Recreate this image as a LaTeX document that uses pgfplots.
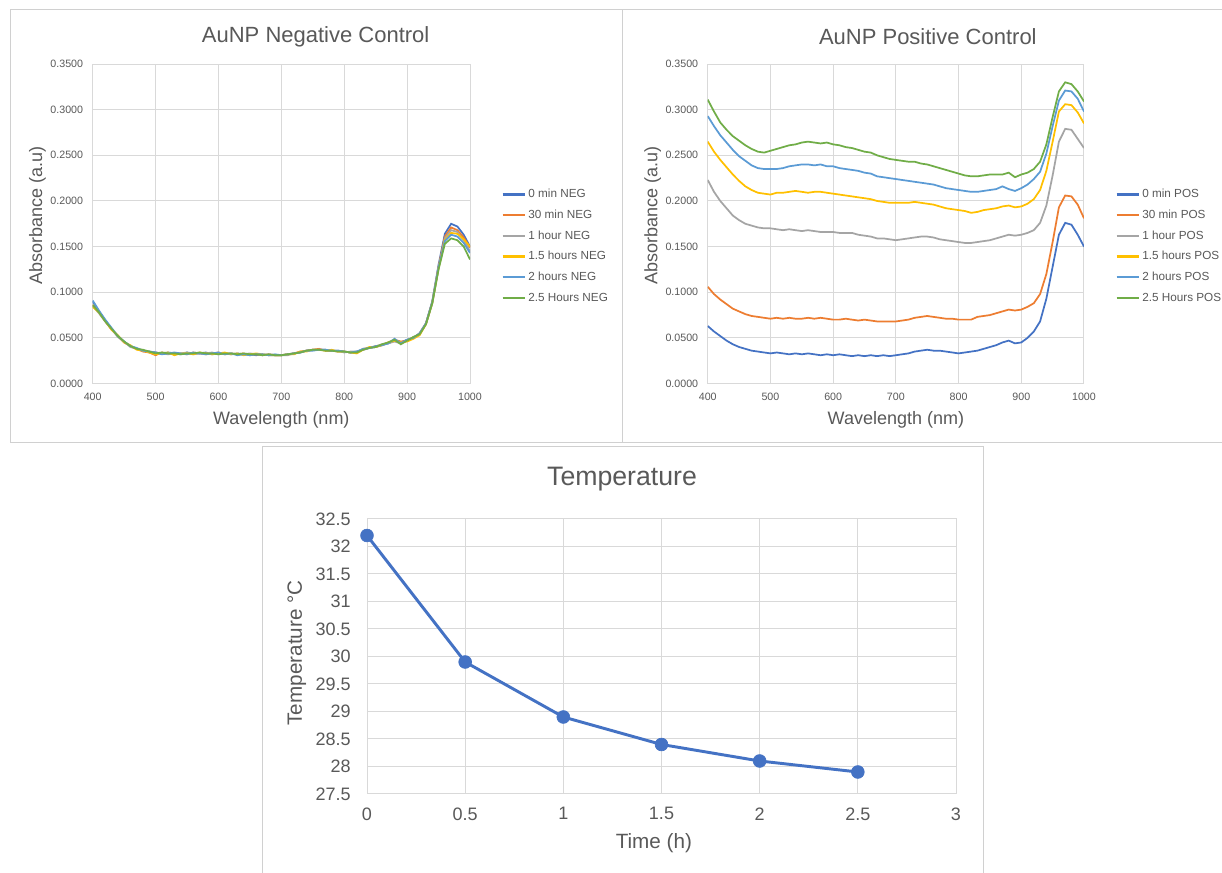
\documentclass[border=0pt]{standalone}
\usepackage{pgfplots}
\pgfplotsset{compat=1.18}
\usepackage{pgfplotstable}
\usepackage{fontspec}
\setmainfont{Liberation Sans}
\definecolor{ca}{HTML}{4472C4}
\definecolor{cb}{HTML}{ED7D31}
\definecolor{cc}{HTML}{A5A5A5}
\definecolor{cd}{HTML}{FFC000}
\definecolor{ce}{HTML}{5B9BD5}
\definecolor{cf}{HTML}{70AD47}
\definecolor{txt}{HTML}{595959}
\definecolor{gridc}{HTML}{D9D9D9}
\definecolor{framec}{HTML}{D0D0D0}

\pgfplotstableread{
wl a b c d e f
400 .090 .086 .085 .084 .091 .086
410 .079 .078 .077 .078 .080 .078
420 .069 .068 .068 .069 .070 .068
430 .060 .059 .060 .059 .061 .060
440 .052 .052 .051 .053 .052 .052
450 .046 .045 .046 .045 .046 .046
460 .041 .041 .040 .042 .041 .041
470 .038 .038 .038 .037 .039 .038
480 .036 .035 .036 .036 .036 .037
490 .035 .034 .035 .034 .035 .035
500 .034 .031 .034 .032 .034 .033
510 .033 .034 .033 .033 .032 .034
520 .034 .033 .032 .034 .033 .033
530 .033 .032 .033 .031 .034 .033
540 .032 .033 .033 .033 .033 .032
550 .034 .032 .034 .033 .032 .033
560 .033 .034 .032 .032 .034 .033
570 .033 .033 .033 .034 .033 .034
580 .034 .032 .033 .033 .032 .033
590 .032 .033 .034 .032 .033 .033
600 .033 .034 .032 .033 .034 .032
610 .033 .032 .033 .034 .032 .033
620 .032 .033 .033 .032 .033 .033
630 .033 .032 .032 .033 .031 .032
640 .032 .033 .032 .031 .032 .033
650 .032 .031 .033 .032 .031 .032
660 .031 .032 .032 .033 .032 .032
670 .032 .031 .031 .032 .032 .031
680 .031 .032 .032 .031 .031 .032
690 .031 .031 .031 .031 .032 .031
700 .031 .031 .031 .031 .031 .031
710 .032 .032 .031 .032 .032 .032
720 .033 .033 .033 .032 .033 .033
730 .034 .035 .034 .035 .034 .034
740 .036 .036 .036 .035 .036 .036
750 .037 .037 .037 .037 .036 .037
760 .037 .038 .037 .037 .037 .037
770 .037 .036 .037 .036 .037 .036
780 .036 .036 .036 .037 .036 .036
790 .036 .035 .036 .035 .036 .035
800 .035 .035 .034 .035 .035 .035
810 .034 .034 .035 .034 .034 .034
820 .035 .034 .035 .033 .035 .034
830 .037 .038 .037 .037 .038 .037
840 .039 .039 .039 .040 .039 .039
850 .040 .041 .040 .040 .041 .040
860 .042 .042 .043 .042 .042 .043
870 .044 .045 .044 .045 .044 .045
880 .047 .048 .046 .047 .049 .048
890 .045 .046 .044 .045 .044 .043
900 .048 .047 .047 .046 .048 .047
910 .050 .050 .051 .049 .050 .051
920 .055 .055 .054 .053 .055 .054
930 .066 .066 .065 .065 .066 .065
940 .090 .089 .088 .088 .089 .088
950 .130 .128 .127 .126 .127 .125
960 .164 .161 .159 .157 .156 .153
970 .175 .171 .168 .165 .163 .159
980 .172 .168 .166 .164 .161 .157
990 .163 .160 .157 .158 .154 .150
1000 .150 .149 .145 .150 .143 .136
}\negdata

\pgfplotstableread{
wl a b c d e f
400 .063 .106 .223 .265 .293 .311
410 .057 .098 .210 .254 .282 .298
420 .052 .092 .200 .245 .272 .286
430 .047 .087 .192 .237 .264 .278
440 .043 .082 .184 .229 .256 .271
450 .040 .079 .179 .222 .249 .266
460 .038 .076 .175 .216 .244 .261
470 .036 .074 .173 .212 .239 .257
480 .035 .073 .171 .209 .236 .254
490 .034 .072 .170 .208 .235 .253
500 .033 .071 .170 .207 .235 .255
510 .034 .072 .169 .209 .235 .257
520 .033 .071 .168 .209 .236 .259
530 .032 .072 .169 .210 .238 .261
540 .033 .071 .168 .211 .239 .262
550 .032 .071 .167 .210 .240 .264
560 .033 .072 .168 .209 .240 .265
570 .032 .071 .167 .210 .239 .264
580 .031 .072 .166 .210 .240 .263
590 .032 .071 .166 .209 .238 .264
600 .031 .070 .166 .208 .238 .262
610 .032 .070 .165 .207 .236 .261
620 .031 .071 .165 .206 .235 .259
630 .030 .070 .165 .205 .234 .258
640 .031 .069 .163 .204 .233 .256
650 .030 .070 .162 .203 .231 .254
660 .031 .069 .161 .202 .230 .253
670 .030 .068 .159 .200 .227 .250
680 .031 .068 .159 .199 .226 .248
690 .030 .068 .158 .198 .225 .246
700 .031 .068 .157 .198 .224 .245
710 .032 .069 .158 .198 .223 .244
720 .033 .070 .159 .198 .222 .243
730 .035 .072 .160 .199 .221 .243
740 .036 .073 .161 .198 .220 .241
750 .037 .074 .161 .197 .219 .240
760 .036 .073 .160 .196 .218 .238
770 .036 .072 .158 .194 .216 .236
780 .035 .071 .157 .192 .214 .234
790 .034 .071 .156 .191 .213 .232
800 .033 .070 .155 .190 .212 .230
810 .034 .070 .154 .189 .211 .228
820 .035 .070 .154 .187 .210 .227
830 .036 .073 .155 .188 .210 .227
840 .038 .074 .156 .190 .211 .228
850 .040 .075 .157 .191 .212 .229
860 .042 .077 .159 .192 .213 .229
870 .045 .079 .161 .194 .216 .229
880 .047 .081 .163 .195 .213 .231
890 .044 .080 .162 .193 .211 .226
900 .045 .081 .163 .194 .214 .229
910 .050 .084 .165 .197 .218 .231
920 .057 .088 .168 .202 .224 .235
930 .068 .098 .176 .212 .232 .243
940 .093 .120 .195 .233 .252 .262
950 .128 .155 .228 .265 .282 .292
960 .163 .193 .265 .298 .310 .320
970 .176 .206 .279 .306 .321 .330
980 .174 .205 .278 .305 .320 .328
990 .163 .196 .268 .297 .312 .320
1000 .150 .181 .258 .285 .298 .309
}\posdata

\pgfplotstableread{
t T
0 32.2
0.5 29.9
1 28.9
1.5 28.4
2 28.1
2.5 27.9
}\tempdata

\pgfplotsset{
  excel/.style={
    scale only axis,
    /pgf/number format/assume math mode=true,
    /pgf/number format/1000 sep={},
    grid=major,
    major grid style={draw=gridc, line width=0.75pt},
    axis line style={draw=gridc, line width=0.75pt},
    tick style={draw=none},
    ticklabel style={text=txt},
  },
  spec/.style={
    excel,
    width=283pt, height=239.6pt,
    xmin=400, xmax=1000, ymin=0, ymax=0.35,
    xtick={400,500,600,700,800,900,1000},
    ytick={0,0.05,0.1,0.15,0.2,0.25,0.3,0.35},
    yticklabel style={/pgf/number format/.cd, fixed, fixed zerofill, precision=4, /tikz/.cd,
      font=\fontsize{8}{9}\selectfont, inner sep=0pt, xshift=-7pt},
    xticklabel style={font=\fontsize{8}{9}\selectfont, inner sep=0pt, yshift=-7pt},
    xlabel={Wavelength (nm)},
    ylabel={Absorbance (a.u)},
    xlabel style={at={(axis description cs:0.5,-0.114)}, anchor=center, font=\fontsize{13.5}{15}\selectfont, text=txt},
    ylabel style={at={(axis description cs:-0.146,0.525)}, anchor=center, font=\fontsize{13.5}{15}\selectfont, text=txt},
    legend cell align=left,
    legend image code/.code={\draw[##1, line width=1.6pt] (0pt,0pt) -- (17pt,0pt);},
    legend style={at={(axis description cs:1.083,0.43)}, anchor=west, draw=none, fill=none,
      font=\fontsize{8.8}{10}\selectfont, text=txt, inner sep=0pt, row sep=6.5pt,
      nodes={inner ysep=0pt, inner xsep=1.5pt, text height=7pt, text depth=2pt}},
    every axis plot/.append style={line width=1.3pt},
  },
}

\begin{document}
\begin{tikzpicture}
\fill[white] (0pt,0pt) rectangle (916.5pt,654.75pt);
\useasboundingbox (0pt,0pt) rectangle (916.5pt,654.75pt);
% panel frames
\draw[framec, line width=0.75pt] (7.5pt,322.5pt) rectangle (466.5pt,647.25pt);
\draw[framec, line width=0.75pt] (466.5pt,322.5pt) -- (920pt,322.5pt);
\draw[framec, line width=0.75pt] (466.5pt,647.25pt) -- (920pt,647.25pt);
\draw[framec, line width=0.75pt] (196.5pt,-2pt) -- (196.5pt,319.5pt) -- (737.25pt,319.5pt) -- (737.25pt,-2pt);

% Negative control
\begin{axis}[spec, at={(69.5pt,367.1pt)}, anchor=south west,
  title={AuNP Negative Control},
  every axis title/.style={at={(axis description cs:0.591,1.085)}, anchor=center, font=\fontsize{16.5}{18}\selectfont, text=txt}]
\addplot[ca] table[x=wl,y=a]{\negdata}; \addlegendentry{0 min NEG}
\addplot[cb] table[x=wl,y=b]{\negdata}; \addlegendentry{30 min NEG}
\addplot[cc] table[x=wl,y=c]{\negdata}; \addlegendentry{1 hour NEG}
\addplot[cd] table[x=wl,y=d]{\negdata}; \addlegendentry{1.5 hours NEG}
\addplot[ce] table[x=wl,y=e]{\negdata}; \addlegendentry{2 hours NEG}
\addplot[cf] table[x=wl,y=f]{\negdata}; \addlegendentry{2.5 Hours NEG}
\end{axis}

% Positive control
\begin{axis}[spec, at={(530.8pt,367.1pt)}, anchor=south west, width=282.2pt,
  title={AuNP Positive Control},
  every axis title/.style={at={(axis description cs:0.585,1.085)}, anchor=center, font=\fontsize{16.5}{18}\selectfont, text=txt}]
\addplot[ca] table[x=wl,y=a]{\posdata}; \addlegendentry{0 min POS}
\addplot[cb] table[x=wl,y=b]{\posdata}; \addlegendentry{30 min POS}
\addplot[cc] table[x=wl,y=c]{\posdata}; \addlegendentry{1 hour POS}
\addplot[cd] table[x=wl,y=d]{\posdata}; \addlegendentry{1.5 hours POS}
\addplot[ce] table[x=wl,y=e]{\posdata}; \addlegendentry{2 hours POS}
\addplot[cf] table[x=wl,y=f]{\posdata}; \addlegendentry{2.5 Hours POS}
\end{axis}

% Temperature
\begin{axis}[excel, at={(275.25pt,59.25pt)}, anchor=south west,
  width=441.75pt, height=206.25pt,
  xmin=0, xmax=3, ymin=27.5, ymax=32.5,
  xtick={0,0.5,1,1.5,2,2.5,3},
  ytick={27.5,28,28.5,29,29.5,30,30.5,31,31.5,32,32.5},
  yticklabel style={font=\fontsize{13.5}{15}\selectfont, inner sep=0pt, xshift=-12pt},
  xticklabel style={font=\fontsize{13.5}{15}\selectfont, inner sep=0pt, yshift=-10pt},
  title={Temperature},
  every axis title/.style={at={(axis description cs:0.433,1.145)}, anchor=center, font=\fontsize{20}{22}\selectfont, text=txt},
  xlabel={Time (h)},
  ylabel={Temperature \textdegree C},
  xlabel style={at={(axis description cs:0.487,-0.178)}, anchor=center, font=\fontsize{15.5}{17}\selectfont, text=txt},
  ylabel style={at={(axis description cs:-0.119,0.513)}, anchor=center, font=\fontsize{15.5}{17}\selectfont, text=txt},
  clip=false]
\addplot[ca, line width=2.2pt, mark=*, mark size=4.8pt, mark options={fill=ca, draw=ca, line width=0.5pt}] table[x=t,y=T]{\tempdata};
\end{axis}
\end{tikzpicture}
\end{document}
